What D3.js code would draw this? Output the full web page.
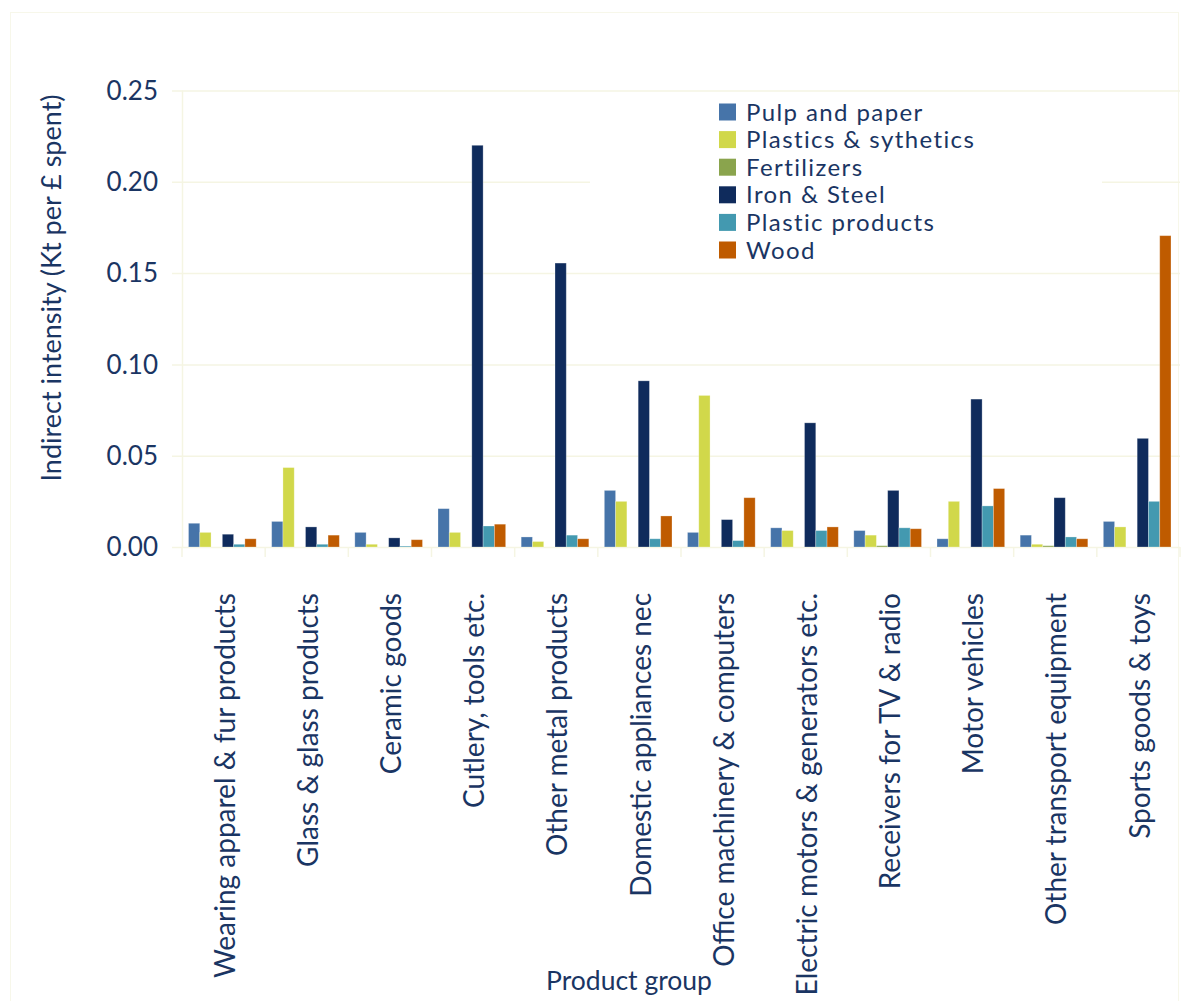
<!DOCTYPE html>
<html><head><meta charset="utf-8">
<script src="https://cdn.jsdelivr.net/npm/d3@7"></script>
<style>
body{margin:0;background:#fff}
text{font-family:Lato,"Open Sans",sans-serif;fill:#1a3563}
</style>
</head><body><svg id="c" width="1187" height="1001"></svg>
<script>
const categories = ["Wearing apparel & fur products","Glass & glass products","Ceramic goods","Cutlery, tools etc.","Other metal products","Domestic appliances nec","Office machinery & computers","Electric motors & generators etc.","Receivers for TV & radio","Motor vehicles","Other transport equipment","Sports goods & toys"];
const seriesNames = ["Pulp and paper","Plastics & sythetics","Fertilizers","Iron & Steel","Plastic products","Wood"];
const seriesColors = ["#4674a9","#d1d84a","#8aa44d","#0f2b5c","#4399b0","#bf5b00"];
const pulpPaper      = [0.013, 0.014, 0.008, 0.021, 0.0055, 0.031, 0.008, 0.0105, 0.009, 0.0045, 0.0065, 0.014];
const plasticsSynth  = [0.008, 0.0435, 0.0015, 0.008, 0.003, 0.025, 0.083, 0.009, 0.0065, 0.025, 0.0015, 0.011];
const fertilizers    = [0, 0, 0, 0, 0, 0, 0, 0, 0.0007, 0, 0.0007, 0];
const ironSteel      = [0.007, 0.011, 0.005, 0.220, 0.1555, 0.091, 0.015, 0.068, 0.031, 0.081, 0.027, 0.0595];
const plasticProducts= [0.0015, 0.0015, 0.0005, 0.0115, 0.0065, 0.0045, 0.0035, 0.009, 0.0105, 0.0225, 0.0055, 0.025];
const wood           = [0.0045, 0.0065, 0.004, 0.0125, 0.0045, 0.017, 0.027, 0.011, 0.010, 0.032, 0.0045, 0.1705];
const yTicks = [0, 0.05, 0.10, 0.15, 0.20, 0.25];
const yTitle = "Indirect intensity (Kt per \u00a3 spent)";
const xTitle = "Product group";

const series = [pulpPaper, plasticsSynth, fertilizers, ironSteel, plasticProducts, wood];
const svg = d3.select("#c");
const lineCol = "#f5f5e3";

svg.append("rect").attr("x",10.5).attr("y",12.5).attr("width",1168).attr("height",995)
  .attr("fill","#fff").attr("stroke","#f7f7ea");

const x0 = d3.scaleBand().domain(categories).range([182, 1180]).padding(0);
const x1 = d3.scaleBand().domain(d3.range(series.length)).range([6.5, x0.bandwidth()-9]).padding(0);
const y = d3.scaleLinear().domain([0, 0.25]).range([547, 90.5]);

// gridlines
svg.append("g").selectAll("line").data(yTicks.slice(1)).join("line")
  .attr("x1",172).attr("x2",1180).attr("y1",d=>y(d)+0.5).attr("y2",d=>y(d)+0.5)
  .attr("stroke",lineCol).attr("stroke-width",1.5);

// legend background (covers gridlines)
svg.append("rect").attr("x",590).attr("y",93).attr("width",512).attr("height",172).attr("fill","#fff");

// y axis line and baseline
svg.append("line").attr("x1",182.5).attr("x2",182.5).attr("y1",y(0.25)).attr("y2",y(0)).attr("stroke",lineCol).attr("stroke-width",1.5);
svg.append("line").attr("x1",172).attr("x2",1180).attr("y1",y(0)+0.5).attr("y2",y(0)+0.5).attr("stroke",lineCol).attr("stroke-width",1.5);
// x tick marks at band boundaries
svg.append("g").selectAll("line").data(d3.range(categories.length+1)).join("line")
  .attr("x1",i=>182 + i*x0.step()).attr("x2",i=>182 + i*x0.step())
  .attr("y1",y(0)).attr("y2",y(0)+10).attr("stroke",lineCol).attr("stroke-width",1.5);

// bars
const g = svg.append("g");
categories.forEach((c, ci) => {
  series.forEach((s, si) => {
    const v = s[ci];
    if (v <= 0) return;
    g.append("rect")
      .attr("x", x0(c) + x1(si))
      .attr("y", y(v))
      .attr("width", x1.bandwidth())
      .attr("height", y(0) - y(v))
      .attr("fill", seriesColors[si])
      .attr("stroke", "rgba(255,255,255,0.35)")
      .attr("stroke-width", 0.8);
  });
});

// y tick labels
svg.append("g").selectAll("text").data(yTicks).join("text")
  .attr("x",158).attr("y",d=>y(d)).attr("dy","0.36em")
  .attr("text-anchor","end").style("font-size","26px")
  .text(d=>d3.format(".2f")(d));

// y title
svg.append("text").attr("transform","translate(52,288) rotate(-90)")
  .attr("text-anchor","middle").attr("dy","0.35em").style("font-size","27px").text(yTitle);

// x labels
svg.append("g").selectAll("text").data(categories).join("text")
  .attr("transform",d=>`translate(${x0(d)+x0.bandwidth()/2+1},593) rotate(-90)`)
  .attr("text-anchor","end").attr("dy","0.36em").style("font-size","28px").text(d=>d);

// x title
svg.append("text").attr("x",629).attr("y",990).attr("text-anchor","middle")
  .style("font-size","26.5px").text(xTitle);

// legend
const lg = svg.append("g");
seriesNames.forEach((n, i) => {
  const cy = 112 + i*27.6;
  lg.append("rect").attr("x",719).attr("y",cy-8.5).attr("width",17).attr("height",17).attr("fill",seriesColors[i]);
  lg.append("text").attr("x",746).attr("y",cy).attr("dy","0.36em")
    .style("font-size","24px").style("letter-spacing","1.4px").text(n);
});
</script></body></html>
